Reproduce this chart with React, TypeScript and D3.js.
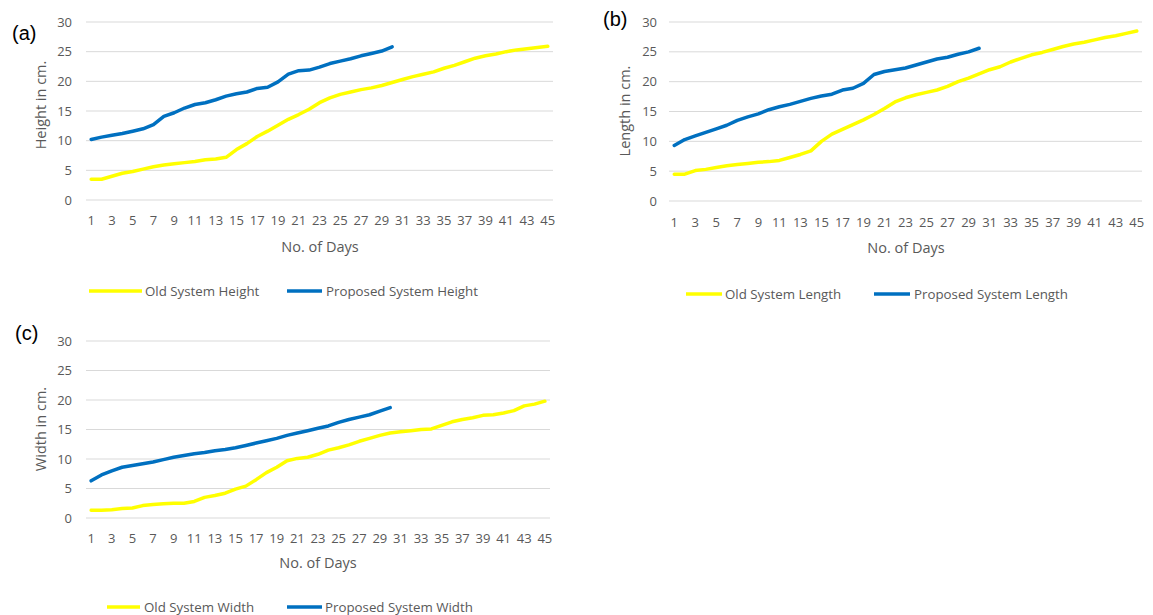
import React from 'react';
import * as d3 from 'd3';

// categories: day numbers on the x axis
const days = [1, 2, 3, 4, 5, 6, 7, 8, 9, 10, 11, 12, 13, 14, 15, 16, 17, 18, 19, 20, 21, 22, 23, 24, 25, 26, 27, 28, 29, 30,
  31, 32, 33, 34, 35, 36, 37, 38, 39, 40, 41, 42, 43, 44, 45];
const yTicks = [0, 5, 10, 15, 20, 25, 30];

// (a) height
const heightOld = [3.5, 3.5, 4.0, 4.5, 4.8, 5.2, 5.6, 5.9, 6.1, 6.3, 6.5, 6.8, 6.9, 7.2, 8.5, 9.5, 10.7, 11.6, 12.6, 13.6,
  14.4, 15.3, 16.4, 17.2, 17.8, 18.2, 18.6, 18.9, 19.3, 19.8, 20.3, 20.8, 21.2, 21.6, 22.2, 22.7, 23.3, 23.9, 24.3, 24.6,
  25.0, 25.3, 25.5, 25.7, 25.9];
const heightNew = [10.2, 10.6, 10.9, 11.2, 11.6, 12.0, 12.7, 14.1, 14.7, 15.5, 16.1, 16.4, 16.9, 17.5, 17.9, 18.2, 18.8,
  19.0, 19.9, 21.2, 21.8, 21.9, 22.4, 23.0, 23.4, 23.8, 24.3, 24.7, 25.1, 25.8];

// (b) length
const lengthOld = [4.5, 4.5, 5.1, 5.3, 5.6, 5.9, 6.1, 6.3, 6.5, 6.6, 6.8, 7.3, 7.8, 8.4, 10.0, 11.2, 12.0, 12.8, 13.6, 14.5,
  15.5, 16.6, 17.3, 17.8, 18.2, 18.6, 19.2, 20.0, 20.6, 21.3, 22.0, 22.5, 23.3, 23.9, 24.5, 24.9, 25.4, 25.9, 26.3, 26.6,
  27.0, 27.4, 27.7, 28.1, 28.5];
const lengthNew = [9.3, 10.3, 10.9, 11.5, 12.1, 12.7, 13.5, 14.1, 14.6, 15.3, 15.8, 16.2, 16.7, 17.2, 17.6, 17.9, 18.6,
  18.9, 19.7, 21.2, 21.7, 22.0, 22.3, 22.8, 23.3, 23.8, 24.1, 24.6, 25.0, 25.6];

// (c) width
const widthOld = [1.3, 1.3, 1.4, 1.6, 1.7, 2.1, 2.3, 2.4, 2.5, 2.5, 2.8, 3.5, 3.8, 4.2, 4.9, 5.4, 6.5, 7.7, 8.6, 9.7,
  10.1, 10.3, 10.8, 11.5, 11.9, 12.4, 13.0, 13.5, 14.0, 14.4, 14.6, 14.8, 15.0, 15.1, 15.7, 16.3, 16.7, 17.0, 17.4, 17.5,
  17.8, 18.2, 19.0, 19.3, 19.8];
const widthNew = [6.3, 7.3, 8.0, 8.6, 8.9, 9.2, 9.5, 9.9, 10.3, 10.6, 10.9, 11.1, 11.4, 11.6, 11.9, 12.3, 12.7, 13.1,
  13.5, 14.0, 14.4, 14.8, 15.2, 15.6, 16.2, 16.7, 17.1, 17.5, 18.1, 18.7];

const OLD = '#FFFF00';
const NEW = '#0070C0';
const GREY = '#595959';
const FONT = '"Open Sans", "Noto Sans", sans-serif';

type Panel = {
  tag: string; yTitle: string; oldName: string; newName: string;
  oldVals: number[]; newVals: number[];
  box: { l: number; r: number; t: number; b: number };
  yLabX: number; xLabY: number;
  yTitlePos: [number, number]; xTitlePos: [number, number]; tagPos: [number, number];
  legY: number; leg: [number, number, number][];
};

const panels: Panel[] = [
  {
    tag: '(a)', yTitle: 'Height in cm.', oldName: 'Old System Height', newName: 'Proposed System Height',
    oldVals: heightOld, newVals: heightNew,
    box: { l: 86, r: 553, t: 22, b: 200 }, yLabX: 72, xLabY: 225,
    yTitlePos: [41, 105], xTitlePos: [320, 252], tagPos: [12, 40],
    legY: 291, leg: [[89, 142, 145], [287, 322, 326]],
  },
  {
    tag: '(b)', yTitle: 'Length in cm.', oldName: 'Old System Length', newName: 'Proposed System Length',
    oldVals: lengthOld, newVals: lengthNew,
    box: { l: 669, r: 1142, t: 22, b: 201 }, yLabX: 657, xLabY: 227,
    yTitlePos: [625, 111], xTitlePos: [906, 253], tagPos: [603, 26],
    legY: 294, leg: [[686, 722, 725], [874, 910, 914]],
  },
  {
    tag: '(c)', yTitle: 'Width in cm.', oldName: 'Old System Width', newName: 'Proposed System Width',
    oldVals: widthOld, newVals: widthNew,
    box: { l: 86, r: 550, t: 341, b: 518 }, yLabX: 72, xLabY: 543,
    yTitlePos: [41, 429], xTitlePos: [318, 568], tagPos: [15, 340],
    legY: 607, leg: [[107, 140, 144], [287, 322, 325]],
  },
];

function LinePanel({ p }: { p: Panel }) {
  const x = d3.scalePoint<number>().domain(days).range([p.box.l, p.box.r]).padding(0.5);
  const y = d3.scaleLinear().domain([0, 30]).range([p.box.b, p.box.t]);
  const line = d3.line<number>().x((_, i) => x(days[i]) as number).y(d => y(d));
  return (
    <g>
      {yTicks.map(t => (
        <g key={t}>
          <line x1={p.box.l} x2={p.box.r} y1={y(t)} y2={y(t)} stroke="#d9d9d9" strokeWidth={1} />
          <text x={p.yLabX} y={y(t)} dy="0.35em" textAnchor="end" fontSize={13} fill={GREY}>{t}</text>
        </g>
      ))}
      {days.filter(d => d % 2 === 1).map(d => (
        <text key={d} x={x(d)} y={p.xLabY} textAnchor="middle" fontSize={13} fill={GREY}>{d}</text>
      ))}
      <path d={line(p.oldVals) || ''} fill="none" stroke={OLD} strokeWidth={3.5} strokeLinejoin="round" strokeLinecap="round" />
      <path d={line(p.newVals) || ''} fill="none" stroke={NEW} strokeWidth={3.5} strokeLinejoin="round" strokeLinecap="round" />
      <text transform={`translate(${p.yTitlePos[0]},${p.yTitlePos[1]}) rotate(-90)`} dy="0.35em" textAnchor="middle"
        fontSize={14.5} fill={GREY}>{p.yTitle}</text>
      <text x={p.xTitlePos[0]} y={p.xTitlePos[1]} textAnchor="middle" fontSize={14.5} fill={GREY}>No. of Days</text>
      <text x={p.tagPos[0]} y={p.tagPos[1]} fontSize={20} fill="#000" fontFamily='"Liberation Sans", Arial, sans-serif'>{p.tag}</text>
      {[[OLD, p.oldName], [NEW, p.newName]].map(([c, name], i) => (
        <g key={name}>
          <line x1={p.leg[i][0]} x2={p.leg[i][1]} y1={p.legY} y2={p.legY} stroke={c} strokeWidth={3.5} />
          <text x={p.leg[i][2]} y={p.legY} dy="0.35em" fontSize={13.3} fill={GREY}>{name}</text>
        </g>
      ))}
    </g>
  );
}

export default function App() {
  return (
    <svg width={1153} height={615} style={{ position: 'absolute', left: 0, top: 0, background: '#fff' }}
      fontFamily={FONT}>
      {panels.map(p => <LinePanel key={p.tag} p={p} />)}
    </svg>
  );
}
